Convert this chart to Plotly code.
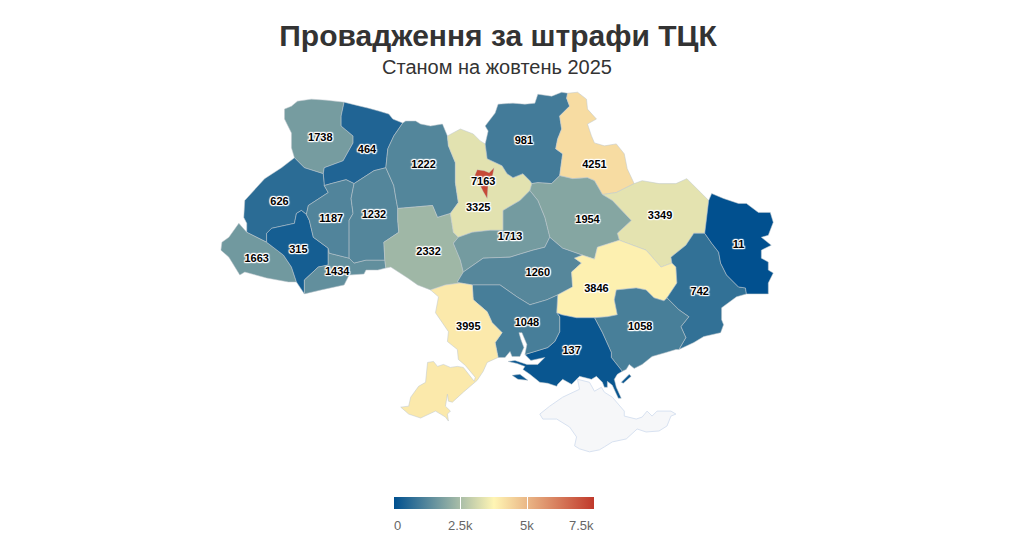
import math
import plotly.graph_objects as go

W, H = 1024, 554

# values by oblast
regions = ["Volyn", "Rivne", "Lviv", "Zakarpattia", "Ivano-Frankivsk", "Chernivtsi", "Ternopil",
           "Khmelnytskyi", "Zhytomyr", "Vinnytsia", "Kyiv oblast", "Chernihiv", "Sumy", "Kharkiv",
           "Poltava", "Cherkasy", "Kirovohrad", "Dnipro", "Donetsk", "Luhansk", "Zaporizhzhia",
           "Kherson", "Mykolaiv", "Odesa", "Kyiv city"]
cases = [1738, 464, 626, 1663, 315, 1434, 1187,
         1232, 1222, 2332, 3325, 981, 4251, 3349,
         1954, 1713, 1260, 3846, 742, 11, 1058,
         137, 1048, 3995, 7163]
tick_vals = [0, 2500, 5000, 7500]
tick_text = ["0", "2.5k", "5k", "7.5k"]
colors = [[0, "#00508f"], [0.5, "#fff5b4"], [1, "#c0392b"]]

# outlines, shared borders kept as one polyline each
VOL_OUT = [(293,157),(290,147),(290,132),(283,118),(283,108),(290,105),(296,100),(310,98),(325,99),(343,101)]
VOL_RIV = [(343,101),(340,115),(340,125),(352,135),(352,142),(342,160),(323,167),(322,173)]
VOL_LVI = [(293,157),(303,167),(322,173)]
RIV_OUT = [(343,101),(355,104),(367,107),(378,110),(388,113),(392,118),(402,122)]
RIV_ZHY = [(402,122),(393,135),(387,148),(385,167)]
RIV_KHM = [(385,167),(373,170),(353,183)]
RIV_TER = [(353,183),(345,179),(330,183),(323,185)]
RIV_LVI = [(323,185),(322,173)]
LVI_OUT = [(293,157),(280,167),(263,178),(243,200),(242,217),(245,223),(245,232)]
LVI_ZAK = [(245,232),(265,242)]
LVI_IF = [(265,242),(265,233),(270,228),(293,223),(295,213),(300,210),(305,214)]
LVI_TER = [(305,214),(307,205),(327,192),(323,185)]
ZAK_OUT = [(245,232),(237,223),(227,237),(220,242),(219,250),(227,257),(238,275),(243,272),(265,278),(287,282),(295,282)]
ZAK_IF = [(295,282),(290,267),(282,255),(265,242)]
IF_BOT = [(295,282),(303,294)]
IF_CHE = [(303,294),(303,280),(317,267),(327,265),(327,248)]
IF_TER = [(327,248),(312,237),(308,220),(305,214)]
CHE_OUT = [(303,294),(320,290),(343,285),(348,275),(363,274),(365,270),(377,270),(385,268)]
CHE_VIN = [(385,268),(384,260)]
KHM_CHE = [(384,260),(365,260),(353,263),(348,258)]
TER_CHE = [(348,258),(328,253),(327,248)]
TER_KHM = [(353,183),(350,198),(352,213),(348,220),(348,258)]
ZHY_KHM = [(385,167),(393,185),(395,197),(397,208)]
KHM_VIN = [(397,208),(397,220),(398,232),(383,242),(384,260)]
ZHY_OUT = [(402,122),(405,120),(415,120),(420,123),(430,125),(442,123),(447,135)]
ZHY_KYI = [(447,135),(448,145),(455,162),(455,182),(458,202),(450,213)]
ZHY_VIN = [(450,213),(437,217),(432,205),(397,208)]
KYI_VIN = [(450,213),(453,232),(458,237)]
VIN_CHK = [(458,237),(453,243),(460,260),(463,272)]
VIN_KIR = [(463,272),(457,282),(460,283)]
VIN_ODE = [(460,283),(445,285),(430,290)]
VIN_OUT = [(430,290),(417,285),(407,278),(390,267),(385,268)]
KYI_OUT = [(447,135),(460,128),(473,133),(480,140),(485,143)]
KYI_CHN = [(485,143),(487,158),(502,165),(507,173),(513,177),(523,173),(530,180),(532,183)]
KYI_POL = [(532,183),(530,190)]
KYI_CHK = [(530,190),(520,200),(503,210),(503,230),(490,230),(472,232),(458,237)]
CHN_OUT = [(485,143),(488,130),(485,125),(495,112),(498,103),(513,102),(525,103),(535,102),(538,93),(552,95),(562,91),(568,92)]
CHN_SUM = [(568,92),(567,97),(570,105),(560,115),(562,128),(558,138),(556,148),(563,153),(560,175)]
CHN_POL = [(560,175),(552,183),(538,182),(532,183)]
SUM_OUT = [(568,92),(578,91),(587,98),(588,108),(597,118),(588,123),(592,135),(595,142),(605,145),(617,143),(625,153),(628,168),(635,183)]
SUM_KHA = [(635,183),(617,192),(603,194)]
SUM_POL = [(603,194),(595,180),(588,177),(573,178),(560,175)]
KHA_OUT = [(635,183),(643,180),(660,183),(677,183),(688,178),(702,192),(710,200)]
KHA_LUH = [(710,200),(707,225),(706,233)]
KHA_DON = [(706,233),(695,233),(687,245),(672,257),(673,263)]
KHA_DNI = [(673,263),(662,267),(647,250),(620,240)]
KHA_POL = [(620,240),(618,233),(632,220),(613,200),(603,194)]
POL_DNI = [(620,240),(598,247),(595,259),(583,255)]
POL_KIR = [(583,255),(563,248),(550,237)]
POL_CHK = [(550,237),(545,217),(538,200),(530,190)]
CHK_KIR = [(550,237),(545,247),(533,250),(523,253),(510,257),(483,258),(463,272)]
KIR_DNI = [(583,255),(575,258),(582,263),(572,272),(573,287),(558,295)]
KIR_MYK = [(558,295),(547,300),(530,305),(517,297),(500,285),(472,285)]
KIR_ODE = [(472,285),(460,283)]
DNI_DON = [(673,263),(677,267),(678,283),(668,298)]
DNI_ZAP = [(668,298),(665,301),(655,298),(647,290),(637,288),(617,290),(615,300),(618,315),(608,317),(595,318)]
DNI_KHE = [(595,318),(577,318),(562,315),(557,313)]
DNI_MYK = [(557,313),(558,295)]
DON_LUH = [(706,233),(713,243),(720,252),(722,263),(728,275),(740,287),(747,288),(748,294)]
DON_OUT = [(748,294),(738,297),(723,308),(723,320),(725,325),(722,333),(705,337),(695,343),(680,350)]
DON_ZAP = [(680,350),(687,338),(682,327),(690,317),(680,310),(668,298)]
LUH_OUT = [(710,200),(713,193),(725,198),(740,203),(748,203),(760,212),(772,212),(775,222),(770,235),(763,237),(773,245),(763,250),(763,258),(770,262),(770,270),(775,273),(770,283),(770,294),(748,294)]
ZAP_OUT = [(680,350),(677,350),(667,353),(653,357),(643,365),(635,369),(630,365),(627,370),(623,372)]
ZAP_KHE = [(595,318),(603,333),(612,353),(612,358),(623,372)]
KHE_COAST = [(623,372),(618,375),(615,380),(617,388),(622,399),(619,399),(613,386),(608,382),(608,388),(605,388),(603,383),(597,377),(592,380),(580,377),(572,385),(563,380),(558,385),(557,387),(548,384),(540,383),(530,375),(523,370),(525,367),(517,364),(508,362),(515,361),(527,365),(538,365),(545,358),(531,361),(525,355)]
MYK_KHE = [(557,313),(560,317),(560,332),(555,342),(548,348),(535,352),(525,355)]
MYK_COAST = [(525,355),(527,345),(522,333),(519,333),(521,340),(524,348),(520,357),(512,357),(510,352),(505,358),(498,358)]
ODE_MYK = [(472,285),(473,300),(487,312),(492,323),(502,333),(495,343),(498,358)]
ODE_OUT = [(498,358),(487,363),(483,372),(477,381),(463,393),(452,403),(448,402),(447,395),(445,407),(450,412),(447,415),(448,422),(445,418),(435,412),(420,419),(408,415),(400,408),(408,407),(410,398),(418,387),(425,383),(427,363),(433,362),(437,367),(443,365),(450,368),(457,367),(463,368),(474,382),(475,378),(465,366),(458,360),(457,350),(447,342),(448,332),(435,313),(438,297),(430,290)]
KYIV_CITY = [(474,176),(477,169),(484,170),(489,172),(494,167),(492,177),(488,183),(487,198),(483,191),(479,183)]
TENDRA = [(512,376),(520,375),(528,381),(518,380)]
FEDOTOVA = [(630,375),(632,377),(624,384),(622,383)]
CRIMEA = [(578,380),(580,390),(563,398),(550,407),(540,415),(543,420),(557,420),(570,428),(577,438),(575,447),(580,450),(590,453),(600,451),(605,448),(613,443),(627,440),(638,430),(647,433),(660,432),(668,427),(672,417),(677,415),(672,412),(658,412),(653,417),(648,412),(643,418),(637,420),(625,417),(625,412),(613,398),(605,393),(602,388),(595,392),(590,383)]

r = lambda line: line[::-1]

outlines = {
    "Volyn": [VOL_OUT + VOL_RIV + r(VOL_LVI)],
    "Rivne": [RIV_OUT + RIV_ZHY + RIV_KHM + RIV_TER + RIV_LVI + r(VOL_RIV)],
    "Lviv": [LVI_OUT + LVI_ZAK + LVI_IF + LVI_TER + RIV_LVI + r(VOL_LVI)],
    "Zakarpattia": [ZAK_OUT + ZAK_IF + r(LVI_ZAK)],
    "Ivano-Frankivsk": [IF_BOT + IF_CHE + IF_TER + r(LVI_IF) + r(ZAK_IF)],
    "Chernivtsi": [CHE_OUT + CHE_VIN + KHM_CHE + TER_CHE + r(IF_CHE)],
    "Ternopil": [r(RIV_TER) + TER_KHM + TER_CHE + IF_TER + LVI_TER],
    "Khmelnytskyi": [r(RIV_KHM) + ZHY_KHM + KHM_VIN + KHM_CHE + r(TER_KHM)],
    "Zhytomyr": [ZHY_OUT + ZHY_KYI + ZHY_VIN + r(ZHY_KHM) + r(RIV_ZHY)],
    "Vinnytsia": [r(ZHY_VIN) + KYI_VIN + VIN_CHK + VIN_KIR + VIN_ODE + VIN_OUT + CHE_VIN + r(KHM_VIN)],
    "Kyiv oblast": [KYI_OUT + KYI_CHN + KYI_POL + KYI_CHK + r(KYI_VIN) + r(ZHY_KYI)],
    "Chernihiv": [CHN_OUT + CHN_SUM + CHN_POL + r(KYI_CHN)],
    "Sumy": [SUM_OUT + SUM_KHA + SUM_POL + r(CHN_SUM)],
    "Kharkiv": [KHA_OUT + KHA_LUH + KHA_DON + KHA_DNI + KHA_POL + r(SUM_KHA)],
    "Poltava": [r(CHN_POL) + r(SUM_POL) + r(KHA_POL) + POL_DNI + POL_KIR + POL_CHK + r(KYI_POL)],
    "Cherkasy": [r(KYI_CHK) + r(POL_CHK) + CHK_KIR + r(VIN_CHK)],
    "Kirovohrad": [r(CHK_KIR) + r(POL_KIR) + KIR_DNI + KIR_MYK + KIR_ODE + r(VIN_KIR)],
    "Dnipro": [r(KHA_DNI) + DNI_DON + DNI_ZAP + DNI_KHE + DNI_MYK + r(KIR_DNI) + r(POL_DNI)],
    "Donetsk": [DON_LUH + DON_OUT + DON_ZAP + r(DNI_DON) + r(KHA_DON)],
    "Luhansk": [LUH_OUT + r(DON_LUH) + r(KHA_LUH)],
    "Zaporizhzhia": [r(DNI_ZAP) + r(DON_ZAP) + ZAP_OUT + r(ZAP_KHE)],
    "Kherson": [r(DNI_KHE) + ZAP_KHE + KHE_COAST + r(MYK_KHE), TENDRA, FEDOTOVA],
    "Mykolaiv": [r(KIR_MYK) + r(DNI_MYK) + MYK_KHE + MYK_COAST + r(ODE_MYK)],
    "Odesa": [r(VIN_ODE) + r(KIR_ODE) + ODE_MYK + ODE_OUT],
    "Kyiv city": [KYIV_CITY],
    "Crimea": [CRIMEA],
}

label_spots = {
    "Volyn": (319,137), "Rivne": (366,149), "Lviv": (278,202), "Zakarpattia": (255,259),
    "Ivano-Frankivsk": (297,250), "Chernivtsi": (336,272), "Ternopil": (330,219),
    "Khmelnytskyi": (373,215), "Zhytomyr": (423,165), "Vinnytsia": (428,252),
    "Kyiv oblast": (478,208), "Chernihiv": (524,140), "Sumy": (595,165), "Kharkiv": (661,216),
    "Poltava": (588,220), "Cherkasy": (510,237), "Kirovohrad": (538,273), "Dnipro": (597,289),
    "Donetsk": (701,292), "Luhansk": (740,245), "Zaporizhzhia": (641,328), "Kherson": (572,352),
    "Mykolaiv": (527,324), "Odesa": (468,328), "Kyiv city": (483,182),
}

# traced points -> lon/lat, so that a mercator map gives the same shape back
K = 30.8
R = K * 180 / math.pi
M0 = math.log(math.tan(math.pi / 4 + math.radians(49) / 2))


def to_lonlat(pt):
    lon = 30 + (pt[0] - 498) / K
    m = M0 - (pt[1] - 270) / R
    lat = math.degrees(2 * math.atan(math.exp(m)) - math.pi / 2)
    return [lon, lat]


def make_ring(points):
    # d3 wants the outer ring clockwise on the map
    area = sum(points[i][0] * points[(i + 1) % len(points)][1] - points[(i + 1) % len(points)][0] * points[i][1]
               for i in range(len(points)))
    if area < 0:  # y runs down here, so negative means anticlockwise on screen
        points = points[::-1]
    ring = [to_lonlat(p) for p in points]
    return [ring + [ring[0]]]


features = []
for name, parts in outlines.items():
    features.append({
        "type": "Feature",
        "id": name,
        "properties": {},
        "geometry": {"type": "MultiPolygon", "coordinates": [make_ring(p) for p in parts]},
    })
geojson = {"type": "FeatureCollection", "features": features}

fig = go.Figure()
# text trace goes first: plotly only checks the first geo trace when deciding to fetch its base map
halo = "1px 1px 1px #fff,-1px -1px 1px #fff,1px -1px 1px #fff,-1px 1px 1px #fff,0 1px 1px #fff,0 -1px 1px #fff,1px 0 1px #fff,-1px 0 1px #fff"
label_pos = [to_lonlat(label_spots[n]) for n in regions]
fig.add_scattergeo(
    lon=[p[0] for p in label_pos],
    lat=[p[1] for p in label_pos],
    text=[str(v) for v in cases],
    mode="text",
    textposition="middle center",
    textfont=dict(family="Liberation Sans", size=11, color="black", weight="bold", shadow=halo),
    hoverinfo="skip",
    showlegend=False,
)
fig.add_choropleth(
    geojson=geojson,
    locations=["Crimea"],
    z=[0],
    locationmode="geojson-id",
    colorscale=[[0, "#f6f7f9"], [1, "#f6f7f9"]],
    showscale=False,
    marker_line_color="#d8e2f1",
    marker_line_width=1,
    hoverinfo="skip",
)
fig.add_choropleth(
    geojson=geojson,
    locations=regions[:-1],
    z=cases[:-1],
    locationmode="geojson-id",
    colorscale=colors,
    zmin=0,
    zmax=7500,
    marker_line_color="rgba(190,200,205,0.75)",
    marker_line_width=0.7,
    colorbar=dict(
        orientation="h",
        x=494 / W,
        xanchor="center",
        y=1 - 521 / H,
        yanchor="bottom",
        lenmode="pixels",
        len=200,
        thickness=12,
        xpad=0,
        ypad=0,
        outlinewidth=0,
        tickvals=tick_vals[1:-1],
        ticks="inside",
        ticklen=12,
        tickwidth=1,
        tickcolor="white",
        showticklabels=False,
    ),
)
# Kyiv city sits inside its oblast, so it gets its own trace on top
fig.add_choropleth(
    geojson=geojson,
    locations=regions[-1:],
    z=cases[-1:],
    locationmode="geojson-id",
    colorscale=colors,
    zmin=0,
    zmax=7500,
    showscale=False,
    marker_line_color="rgba(190,200,205,0.75)",
    marker_line_width=0.5,
)

left_top = to_lonlat((0, 0))
right_bottom = to_lonlat((W, H))
middle = to_lonlat((W / 2, H / 2))
fig.update_layout(
    width=W,
    height=H,
    margin=dict(l=0, r=0, t=0, b=0),
    paper_bgcolor="white",
    font=dict(family="Liberation Sans", color="#333333"),
    title=dict(
        text="<b>Провадження за штрафи ТЦК</b>",
        x=498 / W,
        xanchor="center",
        y=1 - 35 / H,
        yanchor="middle",
        font=dict(size=30, color="#333333"),
    ),
    geo=dict(
        visible=False,
        projection_type="mercator",
        lonaxis_range=[left_top[0], right_bottom[0]],
        lataxis_range=[right_bottom[1], left_top[1]],
        center=dict(lon=middle[0], lat=middle[1]),
        domain=dict(x=[0, 1], y=[0, 1]),
        bgcolor="rgba(0,0,0,0)",
    ),
)
fig.add_annotation(text="Станом на жовтень 2025", x=497 / W, y=1 - 67 / H, xref="paper", yref="paper",
                   showarrow=False, font=dict(size=20, color="#333333"), yanchor="middle")

for i, (val, txt) in enumerate(zip(tick_vals, tick_text)):
    anchor = "left" if i == 0 else "right" if i == len(tick_vals) - 1 else "center"
    fig.add_annotation(text=txt, x=(394 + val / 7500 * 200) / W, y=1 - 525 / H, xref="paper", yref="paper",
                       xanchor=anchor, yanchor="middle", showarrow=False, borderpad=0, borderwidth=0,
                       font=dict(size=13, color="#666666"))

fig.write_html("out.html", config={"displayModeBar": False}, post_script="document.body.style.margin='0';")
